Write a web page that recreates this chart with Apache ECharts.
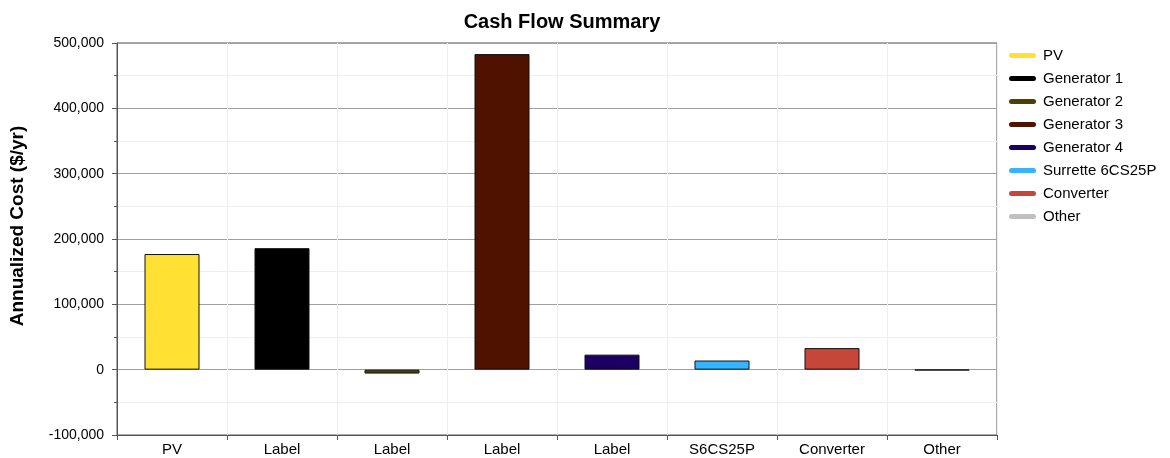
<!DOCTYPE html>
<html>
<head>
<meta charset="utf-8">
<title>Cash Flow Summary</title>
<script src="https://cdn.jsdelivr.net/npm/echarts@6/dist/echarts.min.js"></script>
<style>
  html, body { margin: 0; padding: 0; background: #fff; }
  #chart { width: 1170px; height: 458px; }
</style>
</head>
<body>
<div id="chart"></div>
<script>
// categories on the x axis
var categories = ['PV', 'Label', 'Label', 'Label', 'Label', 'S6CS25P', 'Converter', 'Other'];
// one legend entry per bar
var seriesNames = ['PV', 'Generator 1', 'Generator 2', 'Generator 3', 'Generator 4', 'Surrette 6CS25P', 'Converter', 'Other'];
var seriesColors = ['#ffe033', '#000000', '#4e3f06', '#4f1200', '#1b0062', '#36b4ff', '#c6463a', '#c0c0c0'];
// annualized cost, $/yr
var costs = [177000, 186000, -6000, 483000, 23000, 14000, 33000, -1000];

var chart = echarts.init(document.getElementById('chart'));

var series = [];
for (var i = 0; i < seriesNames.length; i++) {
  var d = [];
  for (var j = 0; j < categories.length; j++) {
    d.push(j == i ? costs[i] : '-');
  }
  series.push({
    name: seriesNames[i],
    type: 'bar',
    stack: 'all',
    barWidth: '50%',
    itemStyle: { color: seriesColors[i], borderColor: '#111', borderWidth: 1 },
    data: d
  });
}

var option = {
  animation: false,
  title: {
    text: 'Cash Flow Summary',
    left: 557,
    top: 7,
    textAlign: 'center',
    textStyle: { fontFamily: 'Liberation Sans', fontSize: 20, fontWeight: 'bold', color: '#000' }
  },
  graphic: [{
    type: 'text',
    x: 18,
    y: 226,
    rotation: Math.PI / 2,
    style: {
      text: 'Annualized Cost ($/yr)',
      align: 'center',
      verticalAlign: 'middle',
      font: 'bold 19px "Liberation Sans"',
      fill: '#000'
    }
  }],
  legend: {
    orient: 'vertical',
    left: 1004,
    top: 43,
    itemGap: 8,
    itemWidth: 27,
    itemHeight: 5,
    icon: 'path://M2.5,0 L24.5,0 A2.5,2.5 0 0 1 24.5,5 L2.5,5 A2.5,2.5 0 0 1 2.5,0 Z',
    itemStyle: { borderWidth: 0 },
    data: seriesNames,
    textStyle: { fontFamily: 'Liberation Sans', fontSize: 15, color: '#000', padding: [0, 0, 0, 2] }
  },
  grid: {
    left: 117,
    right: 173,
    top: 43,
    bottom: 23,
    show: true,
    borderColor: '#555',
    borderWidth: 1
  },
  xAxis: {
    type: 'category',
    data: categories,
    axisLine: { onZero: false, lineStyle: { color: '#555' } },
    axisTick: { show: true, length: 5, lineStyle: { color: '#555' } },
    axisLabel: { fontFamily: 'Liberation Sans', fontSize: 15, color: '#000', margin: 7 },
    splitLine: { show: true, lineStyle: { color: '#eeeeee' } }
  },
  yAxis: {
    type: 'value',
    min: -100000,
    max: 500000,
    interval: 100000,
    axisLine: { show: true, lineStyle: { color: '#555' } },
    axisTick: { show: true, length: 5, lineStyle: { color: '#555' } },
    minorTick: { show: true, splitNumber: 2, length: 3, lineStyle: { color: '#555' } },
    axisLabel: {
      fontFamily: 'Liberation Sans', fontSize: 14, color: '#000', margin: 13,
      formatter: function (v) { return v.toLocaleString('en-US'); }
    },
    splitLine: { show: true, lineStyle: { color: '#a0a0a0' } },
    minorSplitLine: { show: true, lineStyle: { color: '#eeeeee' } }
  },
  series: series
};

chart.setOption(option);
</script>
</body>
</html>
